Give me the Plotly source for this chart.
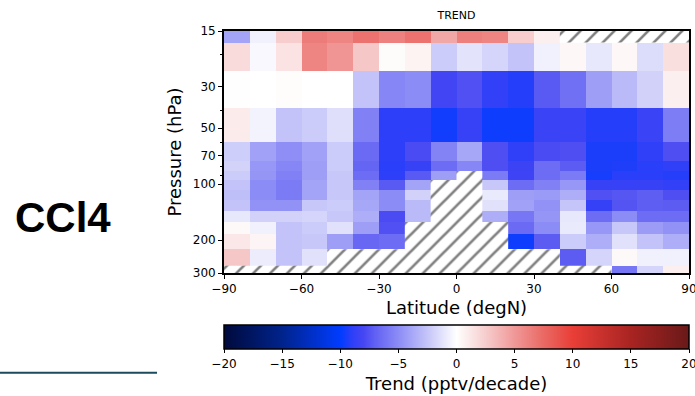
import numpy as np
import plotly.graph_objects as go

# ---------------- data ----------------
lat_edges = list(range(-90, 91, 10))            # 18 latitude bins
levels = [15, 20, 30, 50, 70, 80, 90, 100, 115, 130, 150, 170, 200, 250, 300]
N = None
trend = [
    [-4.0, -0.6, 2.5, 6.5, 6.0, 7.0, 6.2, 7.0, 4.3, 6.3, 6.0, 2.5, 0.8, N, N, N, N, N],
    [1.8, -0.3, 1.4, 6.0, 5.2, 2.8, 0.2, 0.6, -2.2, -1.2, -1.8, -2.6, -0.6, 0.4, -1.0, 0.4, -1.5, 1.6],
    [-0.05, 0.0, 0.15, 0.0, 0.0, -2.6, -5.3, -5.0, -8.2, -7.6, -8.8, -9.2, -7.3, -6.3, -4.2, -3.0, -2.0, 0.8],
    [1.0, -0.5, -2.6, -2.2, -1.4, -5.5, -9.0, -9.0, -9.6, -8.6, -9.7, -9.7, -8.5, -8.5, -9.2, -9.2, -8.5, -5.7],
    [-2.1, -4.1, -4.9, -4.1, -2.2, -6.6, -9.0, -7.8, -5.4, -3.8, -7.7, -8.9, -7.8, -7.7, -9.4, -9.4, -8.9, -7.7],
    [-1.9, -4.5, -5.3, -4.2, -2.2, -6.8, -9.1, -8.6, -6.5, -5.3, -7.7, -8.4, -6.5, -7.2, -9.4, -9.3, -9.1, -8.9],
    [-2.2, -4.6, -5.5, -4.2, -2.4, -6.5, -9.0, -7.3, -4.2, N, -5.8, -8.3, -6.5, -5.8, -9.5, -9.1, -9.1, -9.2],
    [-2.6, -5.0, -5.8, -4.0, -2.4, -5.5, -7.3, -4.0, N, N, -2.4, -6.5, -5.5, -4.5, -8.6, -8.6, -8.6, -8.8],
    [-2.8, -5.0, -5.8, -4.0, -2.4, -4.0, -5.0, -2.0, N, N, -0.9, -4.2, -4.4, -3.5, -7.6, -7.4, -7.1, -7.7],
    [-2.6, -4.8, -4.8, -2.4, -2.2, -3.8, -5.0, -3.0, N, N, -1.3, -4.1, -4.8, -2.5, -8.7, -7.5, -7.1, -7.2],
    [-1.0, -2.0, -2.0, -1.8, -2.4, -3.5, -7.8, -3.0, N, N, -3.5, -6.0, -4.6, -1.0, -6.5, -5.0, -6.5, -6.5],
    [0.3, -0.6, -2.6, -2.2, -1.3, -4.2, -7.6, N, N, N, N, -6.6, -5.0, -0.9, -4.5, -2.4, -4.3, -4.8],
    [1.2, 0.5, -2.6, -2.4, -4.2, -6.7, -6.5, N, N, N, N, -9.7, -7.2, -2.2, -3.5, -1.3, -2.6, -3.5],
    [2.8, -0.8, -2.6, -1.3, N, N, N, N, N, N, N, N, N, -7.2, -1.8, 0.3, -0.6, -0.6],
    [N, N, N, N, N, N, N, N, N, N, N, N, N, N, N, -6.0, -1.8, 0.8],
]
x_ticks = [-90, -60, -30, 0, 30, 60, 90]
y_ticks = [15, 30, 50, 70, 100, 200, 300]
y_minor = [20, 40, 60, 80, 90]
cbar_ticks = [-20, -15, -10, -5, 0, 5, 10, 15, 20]

# pressure cell edges: log midpoints between levels
lv = np.array(levels, dtype=float)
p_edges = [lv[0]] + list(np.sqrt(lv[:-1] * lv[1:])) + [lv[-1]]

# colour map
stops = [(-20, (0, 10, 60)), (-15, (0, 35, 140)), (-10, (0, 60, 255)),
         (-9, (45, 63, 248)), (-8, (70, 70, 243)), (-7, (97, 97, 243)),
         (-5, (140, 140, 246)), (-2.5, (197, 197, 249)),
         (0, (255, 255, 255)), (2.5, (247, 205, 205)), (5, (240, 152, 152)),
         (7.5, (234, 105, 100)), (10, (233, 62, 55)), (15, (168, 36, 34)),
         (20, (105, 25, 25))]
cscale = [[(v + 20) / 40, "rgb(%d,%d,%d)" % c] for v, c in stops]

# hatch polygons for missing cells
hx, hy = [], []
for i, row in enumerate(trend):
    for j, v in enumerate(row):
        if v is None:
            x0, x1 = lat_edges[j], lat_edges[j + 1]
            y0, y1 = p_edges[i], p_edges[i + 1]
            hx += [x0, x1, x1, x0, x0, None]
            hy += [y0, y0, y1, y1, y0, None]

z = np.array([[np.nan if v is None else v for v in r] for r in trend])

fig = go.Figure()
fig.add_trace(go.Scatter(
    x=hx, y=hy, mode="lines", fill="toself",
    line=dict(width=0, color="rgba(0,0,0,0)"),
    fillcolor="white",
    fillpattern=dict(shape="/", fgcolor="black", bgcolor="white", size=12, solidity=0.22),
    hoverinfo="skip", showlegend=False,
))
fig.add_trace(go.Heatmap(
    x=lat_edges, y=p_edges, z=z, zmin=-20, zmax=20, colorscale=cscale,
    colorbar=dict(
        orientation="h", x=0.5, xanchor="center", y=-0.215, yanchor="top",
        len=1.0, lenmode="fraction", thickness=24, ypad=0, xpad=0,
        outlinewidth=1.5, outlinecolor="black",
        tickvals=cbar_ticks, ticktext=[("−%d" % -t) if t < 0 else str(t) for t in cbar_ticks],
        ticks="outside", ticklen=4, tickcolor="black", ticklabeloverflow="allow",
        tickfont=dict(size=12, color="black"),
        title=dict(text="Trend (pptv/decade)", side="bottom", font=dict(size=18, color="black")),
    ),
    hoverongaps=False,
))

fig.update_layout(
    width=695, height=396,
    margin=dict(l=224, r=6, t=31, b=123, autoexpand=False),
    paper_bgcolor="white", plot_bgcolor="white",
    font=dict(family="DejaVu Sans", color="black"),
    title=dict(text="TREND", x=0.5, xref="paper", xanchor="center", y=0.962, yanchor="middle",
               font=dict(size=11, color="black")),
    showlegend=False,
)
fig.update_xaxes(
    range=[-90, 90], tickvals=x_ticks,
    ticktext=[("−%d" % -t) if t < 0 else str(t) for t in x_ticks],
    ticks="outside", ticklen=4, tickcolor="black", tickfont=dict(size=12),
    ticklabeloverflow="allow",
    showline=True, linecolor="black", linewidth=1.8, mirror=True,
    showgrid=False, zeroline=False,
    title=dict(text="Latitude (degN)", font=dict(size=18), standoff=6),
)
fig.update_yaxes(
    type="log", range=[np.log10(300), np.log10(15)],
    tickvals=y_ticks, ticktext=[str(t) for t in y_ticks],
    ticks="outside", ticklen=4, tickcolor="black", tickfont=dict(size=12),
    minor=dict(tickvals=y_minor, ticks="outside", ticklen=2, tickcolor="black", showgrid=False),
    showline=True, linecolor="black", linewidth=1.8, mirror=True,
    showgrid=False, zeroline=False,
    title=dict(text="Pressure (hPa)", font=dict(size=18), standoff=6),
)

# slide fragments on the left
fig.add_annotation(text="<b>CCl4</b>", xref="paper", yref="paper",
                   x=-0.347, y=0.228, xanchor="center", yanchor="middle", showarrow=False,
                   font=dict(family="Liberation Sans", size=42, color="black"))
fig.add_shape(type="line", xref="paper", yref="paper",
              x0=-0.482, x1=-0.144, y0=-0.412, y1=-0.412,
              line=dict(color="#1d4a5c", width=2))

fig.write_html("out.html", config={"displayModeBar": False},
               post_script="document.body.style.margin='0px';")
